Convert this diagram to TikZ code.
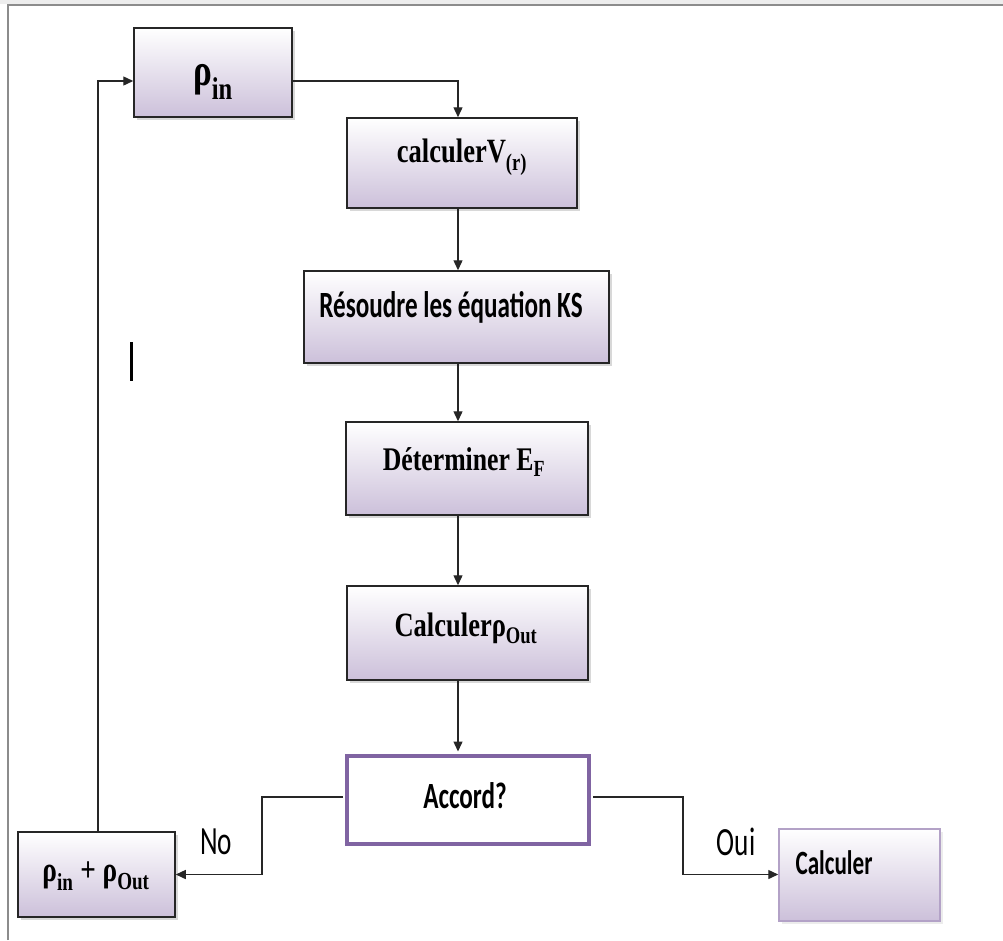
\documentclass[tikz,border=0pt]{standalone}
\usepackage{fontspec}
\setmainfont{Liberation Serif}
\newfontfamily\boxserif[FakeStretch=0.78]{Liberation Serif}
\newfontfamily\boxsans[FakeStretch=0.68]{Carlito}
\newcommand\serifat[1]{\boxserif\bfseries\fontsize{#1}{#1}\selectfont}
\newcommand\sansat[1]{\boxsans\fontsize{#1}{#1}\selectfont}
\definecolor{lav}{RGB}{204,192,218}
\definecolor{accordline}{RGB}{128,100,162}
\definecolor{softline}{RGB}{179,162,199}
\usetikzlibrary{arrows.meta,shadows}

\begin{document}
\begin{tikzpicture}[x=1pt,y=-1pt]
\tikzstyle{flow}=[rectangle, draw=black!85, line width=1.5pt, top color=white, bottom color=lav, drop shadow={shadow xshift=3pt, shadow yshift=-3pt, fill=black!30}]
\tikzstyle{test}=[rectangle, draw=accordline, line width=4pt, fill=white]
\tikzstyle{final}=[rectangle, draw=softline, line width=1.5pt, top color=white, bottom color=lav, drop shadow={shadow xshift=3pt, shadow yshift=-3pt, fill=black!15}]
\tikzstyle{txt}=[inner sep=0pt]
\tikzstyle{connect}=[-{Triangle[length=10pt,width=9pt]}, line width=1.4pt, draw=black!85]

\useasboundingbox (0,0) rectangle (1003,940);
\fill[black!7] (0,0) rectangle (1003,4);
\draw[black!45, line width=1.2pt] (8,940) -- (8,5) -- (1003,5);

%% Boxes
  \node[flow, minimum width=158pt, minimum height=89pt] (pin) at (213,72.5) {};
  \node[flow, minimum width=230pt, minimum height=90pt] (calcV) at (462,163) {};
  \node[flow, minimum width=305pt, minimum height=92pt] (resoudre) at (456.5,317) {};
  \node[flow, minimum width=242pt, minimum height=93pt] (determ) at (467,468.5) {};
  \node[flow, minimum width=241pt, minimum height=94pt] (calcrho) at (467.5,633) {};
  \node[test, minimum width=242pt, minimum height=88pt] (accord) at (468,799.5) {};
  \node[flow, minimum width=157pt, minimum height=85pt] (pinpout) at (96.5,874.5) {};
  \node[final, minimum width=161pt, minimum height=92pt] (calculer) at (859.5,875) {};

%% Texts
  \node[txt, font=\serifat{45}] (pin-t) at (213,82) {ρ\textsubscript{in}};
  \node[txt, font=\serifat{34}] (calcV-t) at (462,157) {calculerV\textsubscript{(r)}};
  \node[txt, font=\sansat{37}\bfseries] (resoudre-t) at (451,307) {Résoudre les équation KS};
  \node[txt, font=\serifat{33}] (determ-t) at (464,462) {Déterminer E\textsubscript{F}};
  \node[txt, font=\serifat{34}] (calcrho-t) at (466,628) {Calculerρ\textsubscript{Out}};
  \node[txt, font=\sansat{37}\bfseries] (accord-t) at (465,796) {Accord?};
  \node[txt, font=\serifat{35}] (pinpout-t) at (96,876) {ρ\textsubscript{in} + ρ\textsubscript{Out}};
  \node[txt, font=\sansat{34}\bfseries] (calculer-t) at (834,863) {Calculer};
  \node[txt, font=\sansat{40}] (no) at (216,842) {No};
  \node[txt, font=\sansat{40}] (oui) at (736,842) {Oui};

%% Routing points
  \coordinate (spine) at (458,0);
  \coordinate (toprow) at (0,81);
  \coordinate (midrow) at (0,797);
  \coordinate (lowrow) at (0,874.5);
  \coordinate (nobend) at (262,0);
  \coordinate (yesbend) at (683,0);
  \coordinate (loopx) at (98,0);

  \draw[connect] (pin.east |- toprow) -| (calcV.north -| spine);
  \draw[connect] (calcV.south -| spine) -- (resoudre.north -| spine);
  \draw[connect] (resoudre.south -| spine) -- (determ.north -| spine);
  \draw[connect] (determ.south -| spine) -- (calcrho.north -| spine);
  \draw[connect] (calcrho.south -| spine) -- ([yshift=2pt]accord.north -| spine);

  % No / Oui
  \draw[connect] ([xshift=-2pt]accord.west |- midrow) -| (nobend |- lowrow) -- (pinpout.east |- lowrow);
  \draw[connect] ([xshift=2pt]accord.east |- midrow) -| (yesbend |- lowrow) -- (calculer.west |- lowrow);

  % Loop back
  \draw[connect] (pinpout.north -| loopx) |- (pin.west |- toprow);

  \draw[line width=3pt] (131,342) -- (131,381);
\end{tikzpicture}
\end{document}
